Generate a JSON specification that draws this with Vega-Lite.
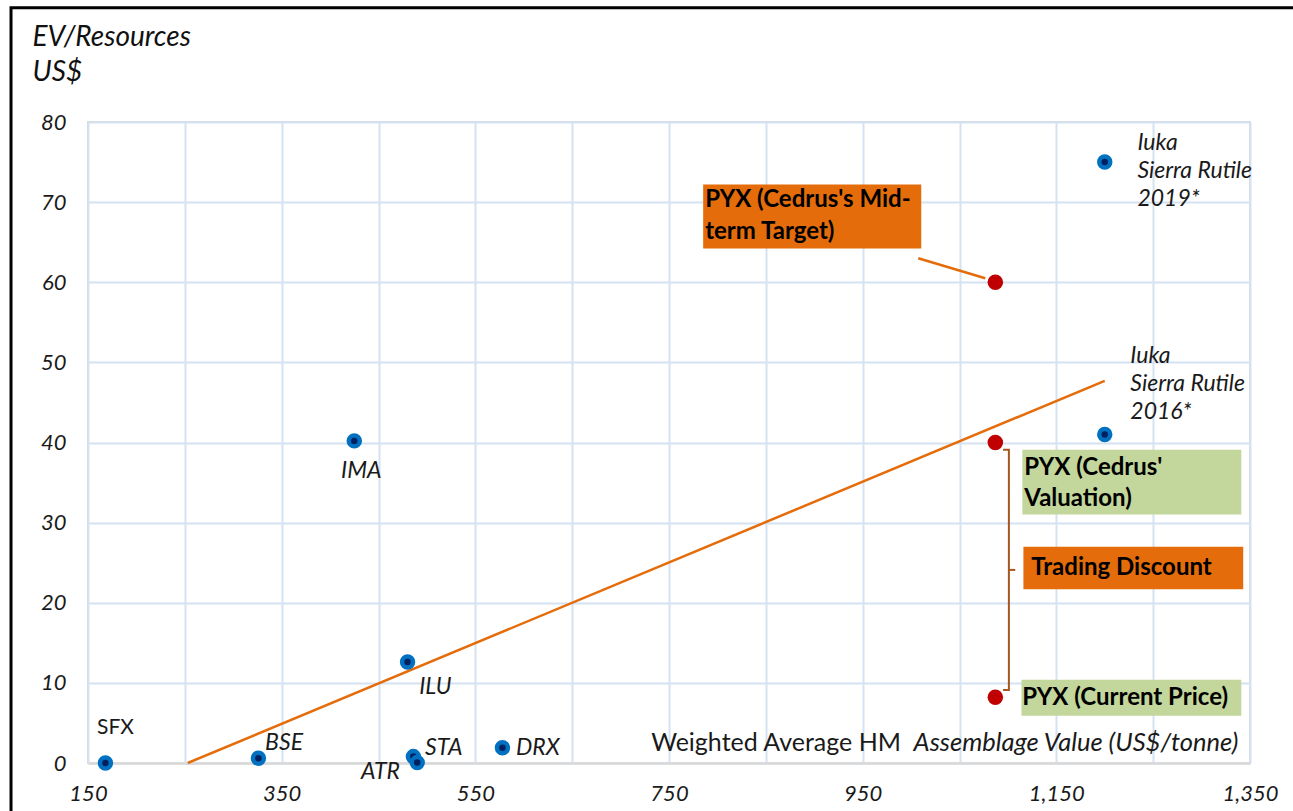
{
  "$schema": "https://vega.github.io/schema/vega-lite/v6.json",
  "width": 1162,
  "height": 641,
  "autosize": {"type": "none"},
  "padding": {"left": 88, "top": 122, "right": 43, "bottom": 48},
  "background": "white",
  "config": {"view": {"stroke": "#D9D9D9", "strokeWidth": 2}, "font": "Lato"},
  "datasets": {
    "frame": [{"x": 70.5, "x2": 1402, "y": 94.26, "y2": -7.1}],
    "companies": [
      {"name": "SFX", "x": 168, "y": 0},
      {"name": "BSE", "x": 326, "y": 0.6},
      {"name": "STA", "x": 486, "y": 0.8},
      {"name": "ATR", "x": 490, "y": 0.05},
      {"name": "DRX", "x": 578, "y": 1.9},
      {"name": "ILU", "x": 480, "y": 12.6},
      {"name": "IMA", "x": 425, "y": 40.2},
      {"name": "Iuka Sierra Rutile 2016*", "x": 1200, "y": 41},
      {"name": "Iuka Sierra Rutile 2019*", "x": 1200, "y": 75}
    ],
    "pyx": [
      {"name": "PYX (Cedrus's Mid-term Target)", "x": 1087, "y": 60},
      {"name": "PYX (Cedrus' Valuation)", "x": 1087, "y": 40},
      {"name": "PYX (Current Price)", "x": 1087, "y": 8.2}
    ],
    "trend": [{"x": 253, "y": 0}, {"x": 1200, "y": 47.7}],
    "connector": [{"x": 1007.4, "y": 63.0}, {"x": 1076.6, "y": 60.5}],
    "bracket": [
      {"seg": "a", "o": 1, "x": 1095, "y": 39.1},
      {"seg": "a", "o": 2, "x": 1101, "y": 39.1},
      {"seg": "a", "o": 3, "x": 1101, "y": 9.1},
      {"seg": "a", "o": 4, "x": 1095, "y": 9.1},
      {"seg": "b", "o": 1, "x": 1101, "y": 24.1},
      {"seg": "b", "o": 2, "x": 1107.6, "y": 24.1}
    ],
    "boxes": [
      {"kind": "orange", "x": 785.3, "x2": 1010.5, "y": 72.2, "y2": 64.2},
      {"kind": "green", "x": 1114.9, "x2": 1341, "y": 39.1, "y2": 31.0},
      {"kind": "orange", "x": 1116, "x2": 1343, "y": 27.0, "y2": 21.7},
      {"kind": "green", "x": 1114, "x2": 1341, "y": 10.4, "y2": 5.9}
    ],
    "boxtext": [
      {"text": "PYX (Cedrus's Mid-", "x": 787.4, "y": 70.3},
      {"text": "term Target)", "x": 787.4, "y": 66.3},
      {"text": "PYX (Cedrus'", "x": 1116.9, "y": 36.8},
      {"text": "Valuation)", "x": 1116.9, "y": 33.0},
      {"text": "Trading Discount", "x": 1124.2, "y": 24.3},
      {"text": "PYX (Current Price)", "x": 1114.9, "y": 8.1}
    ],
    "ptlabels": [
      {"style": "normal", "text": "SFX", "x": 159.3, "y": 4.37},
      {"style": "italic", "text": "BSE", "x": 332.9, "y": 2.5},
      {"style": "italic", "text": "STA", "x": 498.1, "y": 1.87},
      {"style": "italic", "text": "ATR", "x": 432, "y": -1.12},
      {"style": "italic", "text": "DRX", "x": 592.1, "y": 1.87},
      {"style": "italic", "text": "ILU", "x": 492, "y": 9.49},
      {"style": "italic", "text": "IMA", "x": 411.4, "y": 36.45},
      {"style": "italic", "text": "Iuka", "x": 1226.4, "y": 50.8},
      {"style": "italic", "text": "Sierra Rutile", "x": 1226.4, "y": 47.3},
      {"style": "italic", "text": "2016*", "x": 1226.4, "y": 43.8},
      {"style": "italic", "text": "Iuka", "x": 1233.7, "y": 77.4},
      {"style": "italic", "text": "Sierra Rutile", "x": 1233.7, "y": 73.9},
      {"style": "italic", "text": "2019*", "x": 1233.7, "y": 70.4}
    ],
    "xtitle": [
      {"style": "normal", "text": "Weighted Average HM", "x": 731.6, "y": 2.5},
      {"style": "italic", "text": "Assemblage Value (US$/tonne)", "x": 1338, "y": 2.5}
    ]
  },
  "layer": [
    {
      "data": {"name": "frame"},
      "mark": {"type": "rect", "fill": "transparent", "stroke": "black", "strokeWidth": 3, "clip": false},
      "encoding": {
        "x": {
          "field": "x", "type": "quantitative",
          "scale": {"domain": [150, 1350], "nice": false, "zero": false},
          "axis": {
            "title": null,
            "values": [150, 250, 350, 450, 550, 650, 750, 850, 950, 1050, 1150, 1250, 1350],
            "labelExpr": "(datum.value - 150) % 200 === 0 ? format(datum.value, ',') : ''",
            "grid": true, "gridColor": "#D5E2F2", "gridWidth": 2,
            "domainColor": "#D9D9D9", "domainWidth": 2.5,
            "ticks": false, "tickSize": 0,
            "labelFont": "Lato", "labelFontSize": 22, "labelFontStyle": "italic",
            "labelColor": "#1a1a1a", "labelPadding": 20, "labelOverlap": false, "labelFlush": false
          }
        },
        "x2": {"field": "x2"},
        "y": {
          "field": "y", "type": "quantitative",
          "scale": {"domain": [0, 80], "nice": false, "zero": false},
          "axis": {
            "title": ["EV/Resources", "US$"],
            "titleAngle": 0, "titleAlign": "left", "titleBaseline": "top",
            "titleX": -56, "titleY": -99,
            "titleFont": "Lato", "titleFontSize": 28, "titleFontStyle": "italic",
            "titleFontWeight": "normal", "titleColor": "#111111", "titleLineHeight": 35,
            "values": [0, 10, 20, 30, 40, 50, 60, 70, 80],
            "grid": true, "gridColor": "#D5E2F2", "gridWidth": 2,
            "domain": false, "ticks": false, "tickSize": 0,
            "labelFont": "Lato", "labelFontSize": 22, "labelFontStyle": "italic",
            "labelColor": "#1a1a1a", "labelPadding": 22, "labelFlush": false
          }
        },
        "y2": {"field": "y2"}
      }
    },
    {
      "data": {"name": "trend"},
      "mark": {"type": "line", "color": "#E46C0A", "strokeWidth": 2.5},
      "encoding": {
        "x": {"field": "x", "type": "quantitative"},
        "y": {"field": "y", "type": "quantitative"}
      }
    },
    {
      "data": {"name": "connector"},
      "mark": {"type": "line", "color": "#E46C0A", "strokeWidth": 2.5},
      "encoding": {
        "x": {"field": "x", "type": "quantitative"},
        "y": {"field": "y", "type": "quantitative"}
      }
    },
    {
      "data": {"name": "bracket"},
      "mark": {"type": "line", "color": "#A5561E", "strokeWidth": 2},
      "encoding": {
        "x": {"field": "x", "type": "quantitative"},
        "y": {"field": "y", "type": "quantitative"},
        "detail": {"field": "seg"},
        "order": {"field": "o"}
      }
    },
    {
      "data": {"name": "boxes"},
      "transform": [{"filter": "datum.kind === 'orange'"}],
      "mark": {"type": "rect", "color": "#E46C0A"},
      "encoding": {
        "x": {"field": "x", "type": "quantitative"},
        "x2": {"field": "x2"},
        "y": {"field": "y", "type": "quantitative"},
        "y2": {"field": "y2"}
      }
    },
    {
      "data": {"name": "boxes"},
      "transform": [{"filter": "datum.kind === 'green'"}],
      "mark": {"type": "rect", "color": "#C3D69B"},
      "encoding": {
        "x": {"field": "x", "type": "quantitative"},
        "x2": {"field": "x2"},
        "y": {"field": "y", "type": "quantitative"},
        "y2": {"field": "y2"}
      }
    },
    {
      "data": {"name": "companies"},
      "mark": {"type": "point", "filled": true, "fill": "#002060", "stroke": "#0070C0", "strokeWidth": 4.5, "size": 120, "opacity": 1},
      "encoding": {
        "x": {"field": "x", "type": "quantitative"},
        "y": {"field": "y", "type": "quantitative"}
      }
    },
    {
      "data": {"name": "pyx"},
      "mark": {"type": "point", "filled": true, "color": "#C00000", "size": 240, "opacity": 1},
      "encoding": {
        "x": {"field": "x", "type": "quantitative"},
        "y": {"field": "y", "type": "quantitative"}
      }
    },
    {
      "data": {"name": "ptlabels"},
      "transform": [{"filter": "datum.style === 'italic'"}],
      "mark": {"type": "text", "align": "left", "baseline": "middle", "font": "Lato", "fontSize": 23, "fontStyle": "italic", "color": "#1a1a1a"},
      "encoding": {
        "x": {"field": "x", "type": "quantitative"},
        "y": {"field": "y", "type": "quantitative"},
        "text": {"field": "text"}
      }
    },
    {
      "data": {"name": "ptlabels"},
      "transform": [{"filter": "datum.style === 'normal'"}],
      "mark": {"type": "text", "align": "left", "baseline": "middle", "font": "Lato", "fontSize": 21, "color": "#1a1a1a"},
      "encoding": {
        "x": {"field": "x", "type": "quantitative"},
        "y": {"field": "y", "type": "quantitative"},
        "text": {"field": "text"}
      }
    },
    {
      "data": {"name": "xtitle"},
      "transform": [{"filter": "datum.style === 'normal'"}],
      "mark": {"type": "text", "align": "left", "baseline": "middle", "font": "Lato", "fontSize": 25, "color": "#1a1a1a"},
      "encoding": {
        "x": {"field": "x", "type": "quantitative"},
        "y": {"field": "y", "type": "quantitative"},
        "text": {"field": "text"}
      }
    },
    {
      "data": {"name": "xtitle"},
      "transform": [{"filter": "datum.style === 'italic'"}],
      "mark": {"type": "text", "align": "right", "baseline": "middle", "font": "Lato", "fontSize": 25.5, "fontStyle": "italic", "color": "#1a1a1a"},
      "encoding": {
        "x": {"field": "x", "type": "quantitative"},
        "y": {"field": "y", "type": "quantitative"},
        "text": {"field": "text"}
      }
    },
    {
      "data": {"name": "boxtext"},
      "mark": {"type": "text", "align": "left", "baseline": "middle", "font": "Lato", "fontSize": 24, "fontWeight": "bold", "color": "#000000"},
      "encoding": {
        "x": {"field": "x", "type": "quantitative"},
        "y": {"field": "y", "type": "quantitative"},
        "text": {"field": "text"}
      }
    }
  ]
}
